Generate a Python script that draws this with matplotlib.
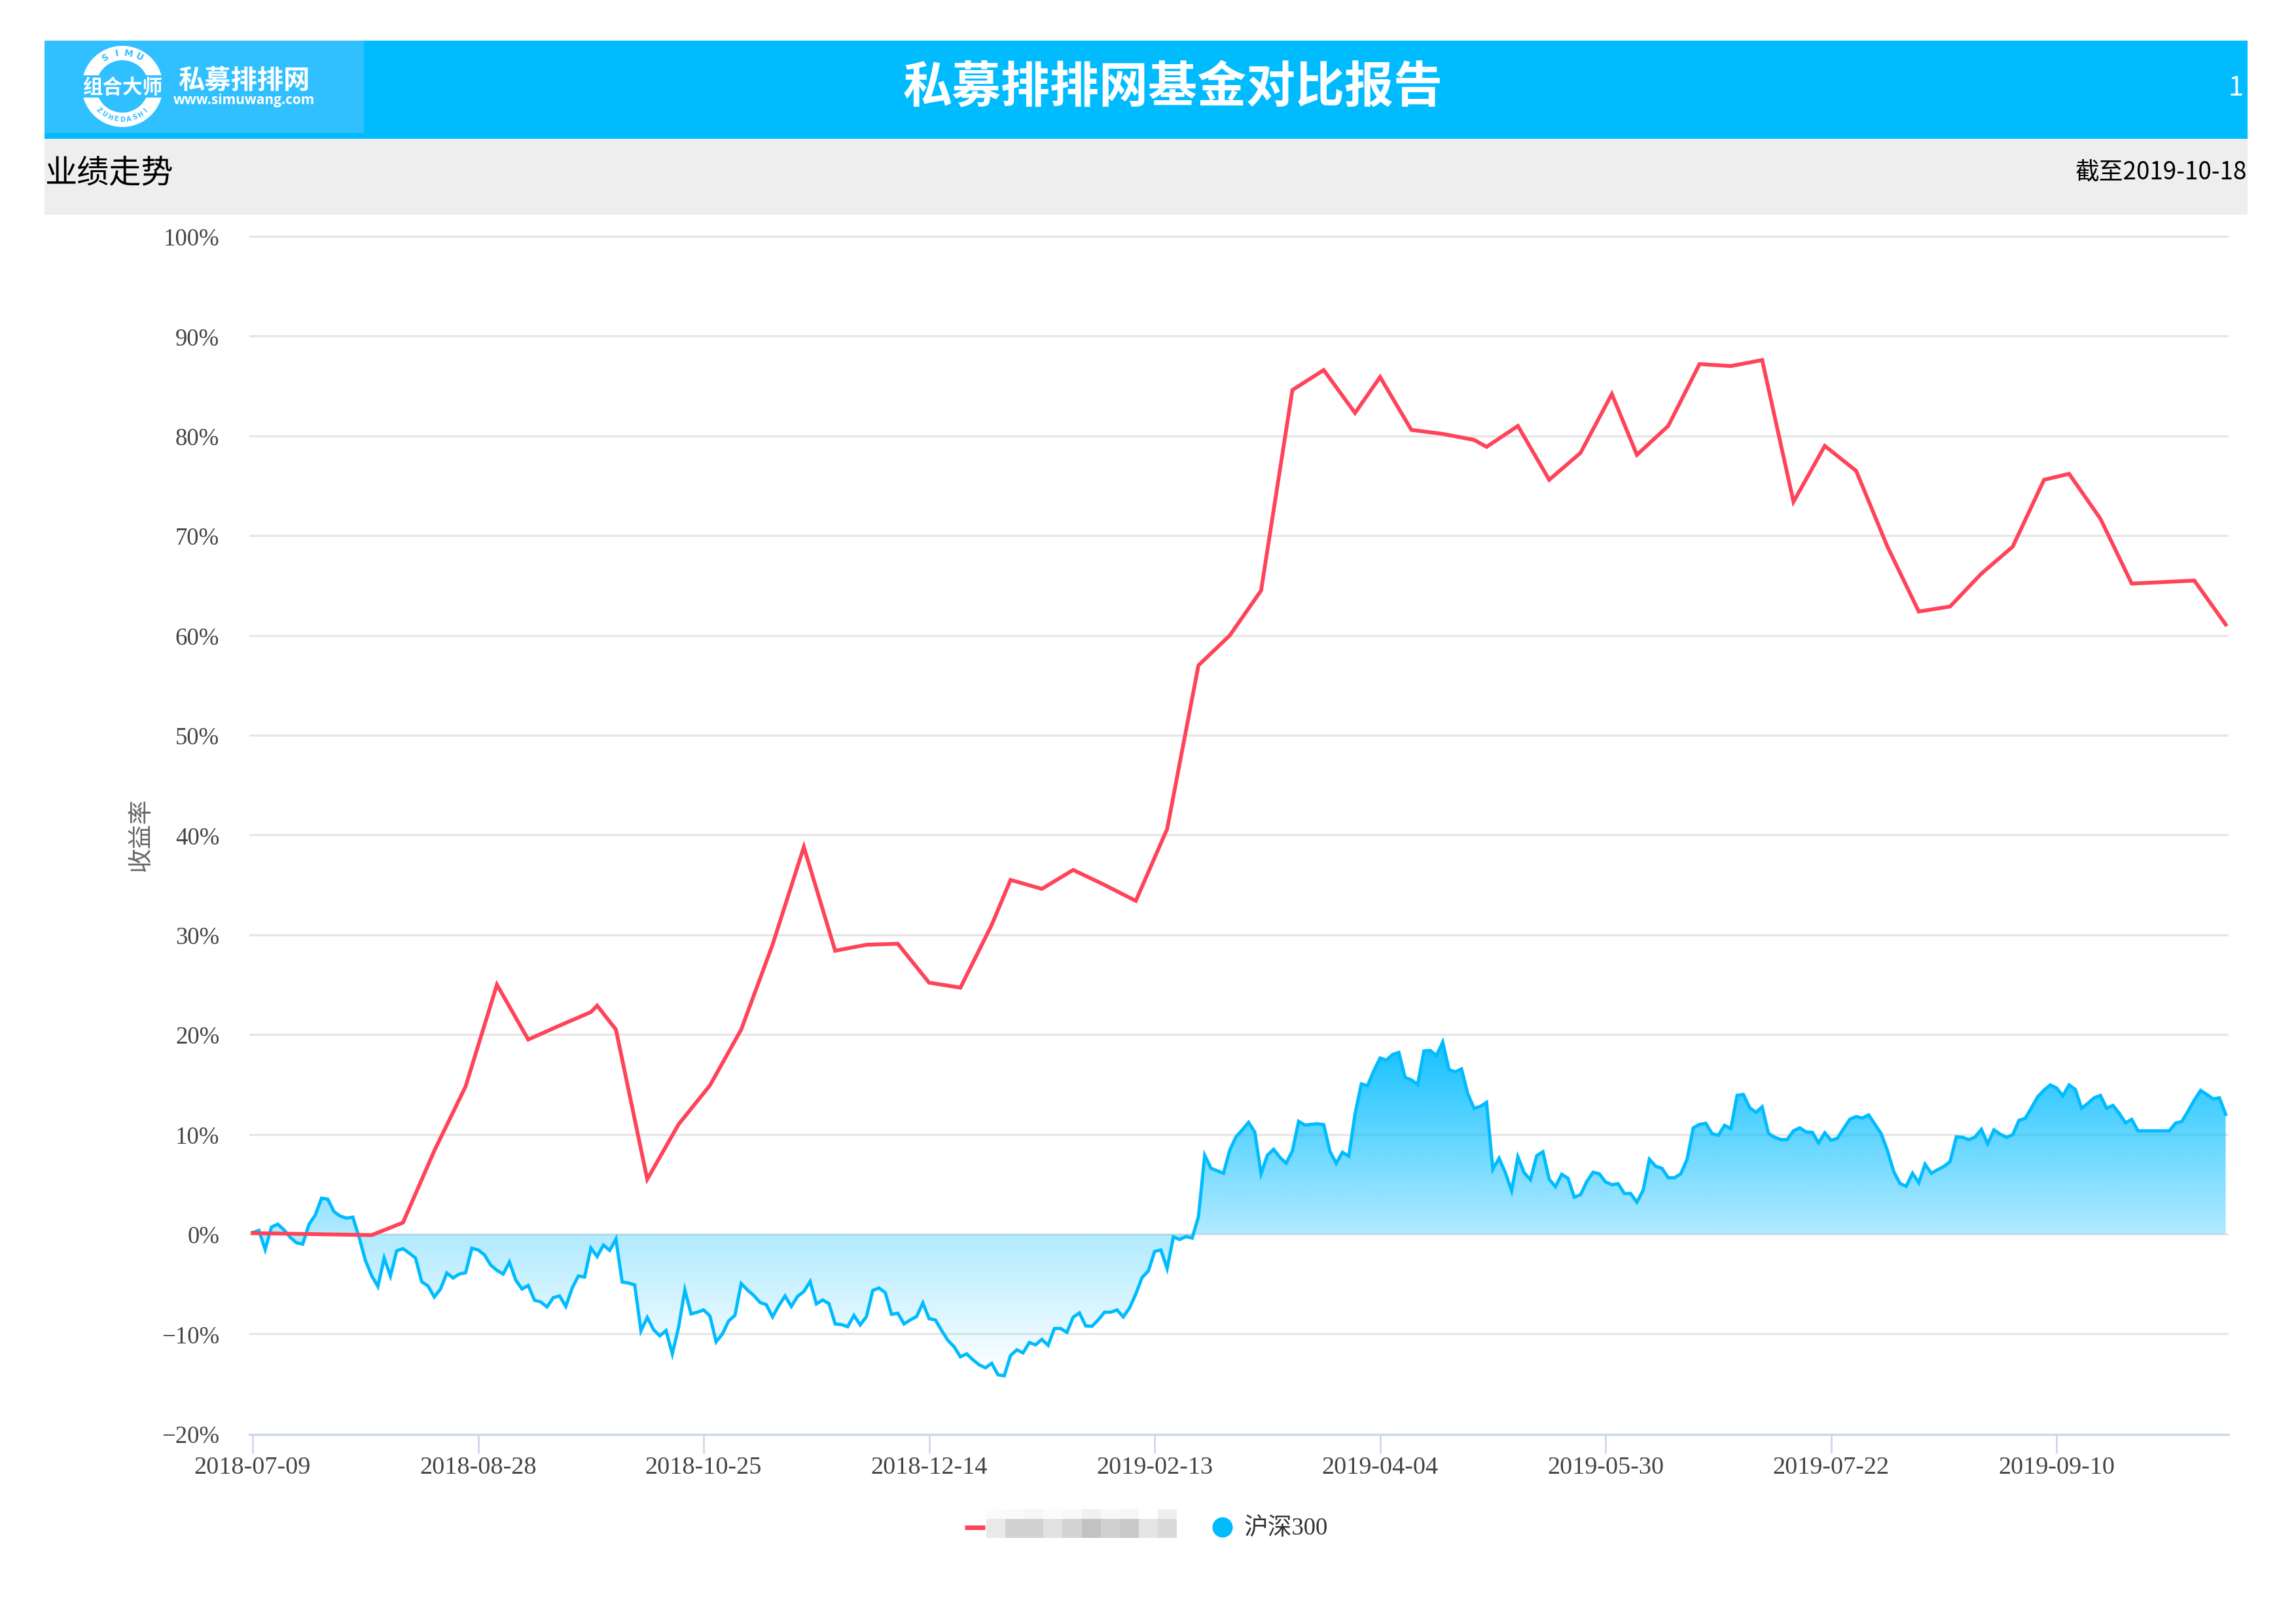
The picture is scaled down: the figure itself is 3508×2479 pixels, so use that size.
import numpy as np
import matplotlib
matplotlib.use('Agg')
import matplotlib.pyplot as plt
from matplotlib.patches import Rectangle, Circle
from matplotlib.colors import ListedColormap
from matplotlib.transforms import ScaledTranslation

CJK = 'Noto Sans CJK SC'
SERIF = ['Liberation Serif', 'Noto Sans CJK SC']
plt.rcParams['font.family'] = [CJK, 'DejaVu Sans']

# 沪深300 收益率(%)，每个交易日一个点
hs300 = [
    0.15, 0.37, -1.55, 0.7, 1.0, 0.43, -0.33, -0.87, -1.0, 0.98,
    1.9, 3.6, 3.5, 2.24, 1.8, 1.6, 1.7, -0.33, -2.63, -4.17,
    -5.25, -2.4, -4.2, -1.67, -1.46, -1.9, -2.4, -4.78, -5.2, -6.3,
    -5.5, -3.9, -4.4, -4.0, -3.87, -1.41, -1.59, -2.07, -3.1, -3.63,
    -4.0, -2.8, -4.6, -5.5, -5.15, -6.63, -6.8, -7.3, -6.37, -6.2,
    -7.25, -5.43, -4.2, -4.3, -1.4, -2.25, -1.1, -1.63, -0.5, -4.8,
    -4.9, -5.1, -9.7, -8.35, -9.57, -10.2, -9.67, -12.0, -9.35, -5.6,
    -8.0, -7.83, -7.6, -8.2, -10.8, -10.0, -8.7, -8.15, -4.95, -5.6,
    -6.15, -6.85, -7.07, -8.3, -7.17, -6.2, -7.25, -6.24, -5.76, -4.75,
    -7.0, -6.6, -6.96, -9.0, -9.07, -9.28, -8.15, -9.1, -8.26, -5.65,
    -5.4, -5.87, -8.04, -7.93, -9.0, -8.6, -8.26, -6.9, -8.48, -8.6,
    -9.67, -10.65, -11.3, -12.3, -12.0, -12.6, -13.1, -13.4, -12.95, -14.1,
    -14.2, -12.17, -11.6, -11.9, -10.87, -11.1, -10.55, -11.15, -9.46, -9.46,
    -9.85, -8.33, -7.9, -9.2, -9.24, -8.6, -7.83, -7.83, -7.6, -8.3,
    -7.4, -6.0, -4.35, -3.7, -1.74, -1.59, -3.45, -0.28, -0.54, -0.25,
    -0.4, 1.75, 7.9, 6.6, 6.35, 6.1, 8.42, 9.75, 10.45, 11.2,
    10.22, 6.05, 7.9, 8.5, 7.7, 7.1, 8.35, 11.3, 10.92, 11.0,
    11.05, 10.97, 8.29, 7.1, 8.2, 7.8, 12.02, 15.05, 14.88, 16.37,
    17.65, 17.43, 18.0, 18.2, 15.7, 15.45, 15.0, 18.35, 18.4, 17.9,
    19.25, 16.48, 16.26, 16.55, 14.07, 12.6, 12.8, 13.2, 6.5, 7.6,
    6.15, 4.35, 7.75, 6.15, 5.45, 7.85, 8.25, 5.5, 4.75, 6.0,
    5.6, 3.7, 3.95, 5.27, 6.2, 6.04, 5.23, 4.95, 5.05, 4.07,
    4.07, 3.2, 4.4, 7.5, 6.8, 6.6, 5.65, 5.65, 6.04, 7.47,
    10.65, 11.0, 11.1, 10.07, 9.9, 10.9, 10.57, 13.9, 14.0, 12.67,
    12.2, 12.75, 10.1, 9.7, 9.47, 9.47, 10.35, 10.65, 10.24, 10.2,
    9.15, 10.15, 9.4, 9.6, 10.57, 11.52, 11.78, 11.63, 11.95, 11.0,
    10.07, 8.37, 6.28, 5.07, 4.8, 6.1, 5.15, 7.0, 6.1, 6.45,
    6.78, 7.27, 9.75, 9.7, 9.45, 9.74, 10.5, 9.05, 10.45, 10.02,
    9.7, 9.96, 11.4, 11.6, 12.67, 13.77, 14.43, 14.95, 14.65, 13.85,
    14.95, 14.5, 12.6, 13.11, 13.66, 13.9, 12.6, 12.9, 12.11, 11.15,
    11.5, 10.35, 10.35, 10.35, 10.35, 10.35, 10.35, 11.12, 11.28, 12.33,
    13.44, 14.4, 13.99, 13.55, 13.66, 12.0,
]

# 基金净值是周频，只有这些交易日有数据
fund_idx = [
    0, 19, 24, 29, 34, 39, 44, 49, 54, 55, 58, 63, 68, 73, 78, 83, 88, 93, 98,
    103, 108, 113, 118, 121, 126, 131, 136, 141, 146, 151, 156, 161, 166, 171,
    176, 180, 185, 190, 195, 197, 202, 207, 212, 217, 221, 226, 231, 236, 241,
    246, 251, 256, 261, 266, 271, 276, 281, 286, 290, 295, 300, 310, 315,
]
fund = [
    0.1, -0.1, 1.15, 8.35, 14.8, 25.0, 19.5, 20.9, 22.25, 22.9, 20.5, 5.5, 11.0,
    14.9, 20.5, 29.0, 38.8, 28.4, 29.0, 29.1, 25.2, 24.7, 31.0, 35.5, 34.6, 36.5,
    35.0, 33.4, 40.6, 57.0, 60.0, 64.5, 84.6, 86.6, 82.3, 85.9, 80.6, 80.2, 79.6,
    78.9, 81.0, 75.6, 78.3, 84.2, 78.1, 81.0, 87.2, 87.0, 87.6, 73.4, 79.0, 76.5,
    68.9, 62.4, 62.9, 66.2, 68.9, 75.6, 76.2, 71.7, 65.2, 65.5, 61.1,
]

date_labels = ['2018-07-09', '2018-08-28', '2018-10-25', '2018-12-14', '2019-02-13',
               '2019-04-04', '2019-05-30', '2019-07-22', '2019-09-10']
y_ticks = list(range(-20, 101, 10))
date_every = 36

# 图例里被打码的基金名称，灰度马赛克
mosaic_top = [0xfb, 0xfa, 0xf7, 0xfc, 0xf8, 0xf1, 0xf8, 0xf6, 0xff, 0xef]
mosaic_bottom = [0xe9, 0xd2, 0xd2, 0xe2, 0xd3, 0xc2, 0xd0, 0xc9, 0xe4, 0xda]

W, H = 3508, 2479
BLUE = '#00BCFF'
RED = '#FF4358'
LOGO = '#30C0FF'

fig = plt.figure(figsize=(W / 100, H / 100), dpi=100, facecolor='white')

# 页面层，坐标直接用像素
page = fig.add_axes([0, 0, 1, 1])
page.set_xlim(0, W)
page.set_ylim(H, 0)
page.axis('off')

page.add_patch(Rectangle((68, 62), 3366, 150, color=BLUE, lw=0))
page.add_patch(Rectangle((68, 212), 3366, 116, color='#EEEEEE', lw=0))
page.add_patch(Rectangle((68, 62), 488, 141, color=LOGO, lw=0))

# logo
cx, cy = 187, 132
page.add_patch(Circle((cx, cy), 62, color='white', lw=0))
page.add_patch(Circle((cx, cy), 40, color=LOGO, lw=0))
page.add_patch(Rectangle((cx - 64, 115), 128, 34, color=LOGO, lw=0))
page.text(cx, 134, '组合大师', color='white', fontsize=22, fontweight='bold',
          ha='center', va='center')
for ch, a in zip('SIMU', [-30, -10, 10, 30]):
    r = np.radians(a)
    page.text(cx + 51 * np.sin(r), cy - 51 * np.cos(r), ch, color=LOGO, fontsize=10,
              fontweight='bold', rotation=-a, ha='center', va='center', family='DejaVu Sans')
for ch, a in zip('ZUHEDASHI', [-44, -33, -22, -11, 0, 11, 22, 33, 44]):
    r = np.radians(a)
    page.text(cx + 51 * np.sin(r), cy + 51 * np.cos(r), ch, color=LOGO, fontsize=7,
              fontweight='bold', rotation=a, ha='center', va='center', family='DejaVu Sans')
page.text(373, 123, '私募排排网', color='white', fontsize=29, fontweight='bold',
          ha='center', va='center')
page.text(373, 153, 'www.simuwang.com', color='white', fontsize=15, fontweight='bold',
          ha='center', va='center', family='Open Sans')

page.text(1792, 134, '私募排排网基金对比报告', color='white', fontsize=54, fontweight='bold',
          ha='center', va='center')
page.text(3428, 134, '1', color='white', fontsize=30, ha='right', va='center')
page.text(68, 264, '业绩走势', color='black', fontsize=35.4, ha='left', va='center')
page.text(3433, 264, '截至2019-10-18', color='black', fontsize=26.5, ha='right', va='center')

page.text(215, 1275, '收益率', color='#666666', fontsize=27, rotation=90,
          ha='center', va='center')

# 图例
page.plot([1474, 1505], [2333, 2333], color=RED, lw=5, solid_capstyle='butt')
mosaic = np.array([mosaic_top, mosaic_bottom])
grey = ListedColormap(np.linspace(0, 1, 256)[:, None].repeat(3, axis=1))
page.pcolormesh(np.linspace(1507, 1798, 11), [2305, 2320, 2349], mosaic,
                cmap=grey, vmin=0, vmax=255, shading='flat')
page.add_patch(Circle((1868, 2333), 15.5, color=BLUE, lw=0))
page.text(1901, 2335, '沪深300', color='#333333', fontsize=26.5, family=SERIF,
          ha='left', va='center')
page.set_xlim(0, W)
page.set_ylim(H, 0)

# 主图，x 轴为交易日序号
left, right, top, bottom = 381, 3405, 357, 2191
x0_px, step = 386, 9.57
y0_px, per_pct = 1885, 15.24
xlim = ((left - x0_px) / step, (right - x0_px) / step)
ylim = ((y0_px - bottom) / per_pct, (y0_px - top) / per_pct)

ax = fig.add_axes([left / W, 1 - bottom / H, (right - left) / W, (bottom - top) / H])
ax.patch.set_alpha(0)

days = np.arange(len(hs300))
ax.set_axisbelow(True)
ax.grid(axis='y', color='#E6E6E6', lw=2.4)
ax.grid(axis='x', visible=False)
for name in ['top', 'left', 'right']:
    ax.spines[name].set_visible(False)
ax.spines['bottom'].set_color('#CCD6EB')
ax.spines['bottom'].set_linewidth(2.4)

ax.set_xticks(np.arange(len(date_labels)) * date_every)
ax.set_xticklabels(date_labels, family=SERIF, fontsize=27.5, color='#444444')
ax.tick_params(axis='x', length=21, width=1.9, color='#CCD6EB', pad=3)
ax.set_yticks(y_ticks)
ax.set_yticklabels([('%d%%' % v).replace('-', '\u2212') for v in y_ticks],
                   family=SERIF, fontsize=26.5, color='#444444')
ax.tick_params(axis='y', length=0, pad=33)
shift = ScaledTranslation(0, -1 / 100, fig.dpi_scale_trans)
for lab in ax.get_yticklabels():
    lab.set_transform(lab.get_transform() + shift)
ax.yaxis.get_major_ticks()[0].gridline.set_visible(False)

# 面积渐变
lo, hi = min(hs300), max(hs300)
levels = np.linspace(lo, hi, 400)
alpha = np.interp(levels, [lo, 0, hi], [0.0, 0.31, 0.92])
grad = np.zeros((400, 1, 4))
grad[..., :3] = matplotlib.colors.to_rgb(BLUE)
grad[:, 0, 3] = alpha
area = ax.fill_between(days, hs300, 0, facecolor='none', edgecolor='none')
im = ax.imshow(grad, origin='lower', aspect='auto', extent=(0, days[-1], lo, hi),
               interpolation='bilinear', zorder=2)
im.set_clip_path(area.get_paths()[0], transform=ax.transData)
ax.set_xlim(xlim)
ax.set_ylim(ylim)

ax.plot(days, hs300, color=BLUE, lw=3.6, solid_joinstyle='miter', zorder=3, clip_on=False)
ax.plot(fund_idx, fund, color=RED, lw=4.2, solid_joinstyle='miter', zorder=4, clip_on=False)

fig.savefig('out.png', dpi=100)
